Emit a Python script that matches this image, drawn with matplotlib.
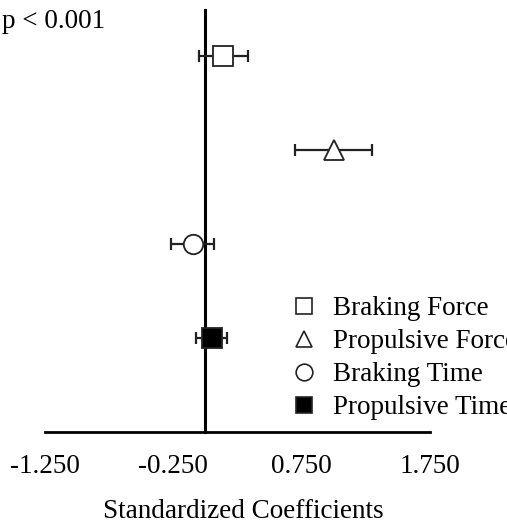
import numpy as np
import matplotlib
matplotlib.use("Agg")
import matplotlib.pyplot as plt

# datos
variables = ["Braking Force", "Propulsive Force", "Braking Time", "Propulsive Time"]
coeficientes = [0.14, 1.00, -0.10, 0.05]
error = [0.19, 0.30, 0.17, 0.12]
filas = [4, 3, 2, 1]
ticks_x = [-1.25, -0.25, 0.75, 1.75]

marcadores = ["s", "^", "o", "s"]
rellenos = ["white", "white", "white", "black"]

plt.rcParams["font.family"] = ["Liberation Serif", "DejaVu Serif"]

W, H = 507, 527
fig = plt.figure(figsize=(W / 100, H / 100), dpi=100)
ax = fig.add_axes([45 / W, 95 / H, 385 / W, 4.5 * 94 / H])
ax.set_xlim(-1.25, 1.75)
ax.set_ylim(0, 4.5)

for s in ax.spines.values():
    s.set_visible(False)

# ejes dibujados a mano
ax.plot([-1.25, 1.75], [0, 0], color="black", lw=2, clip_on=False, zorder=1)
ax.plot([0, 0], [0, 4.49], color="black", lw=2.2, clip_on=False, zorder=1)

for i in range(len(variables)):
    ax.errorbar(coeficientes[i], filas[i], xerr=error[i], fmt="none",
                ecolor="#222222", elinewidth=1.6, capsize=4, capthick=1.6, zorder=2)
    ax.plot(coeficientes[i], filas[i], marker=marcadores[i], ms=14,
            mfc=rellenos[i], mec="#222222", mew=1.3, ls="none", zorder=3)

ax.set_xticks(ticks_x)
ax.set_xticklabels(["%.3f" % t for t in ticks_x])
ax.tick_params(axis="x", length=0, pad=16, labelsize=19.5)
ax.set_yticks([])
ax.set_xlabel("Standardized Coefficients", fontsize=19.5, va="center")
ax.xaxis.set_label_coords((243 - 45) / 385, (15 - 95) / (4.5 * 94))

leg_handles = []
for i in range(len(variables)):
    lh, = ax.plot([], [], marker=marcadores[i], ms=12, mfc=rellenos[i],
                  mec="#222222", mew=1.2, ls="none")
    leg_handles.append(lh)
fig.legend(leg_handles, variables, loc="upper left",
           bbox_to_anchor=(290 / W, 1 - 296 / H), frameon=False,
           fontsize=19.5, handlelength=1.0, handletextpad=0.6,
           labelspacing=0.3, borderaxespad=0, borderpad=0)

fig.text(2 / W, 1 - 28 / H, "p < 0.001", fontsize=19.5, va="baseline", ha="left")

fig.savefig("out.png", dpi=100)
